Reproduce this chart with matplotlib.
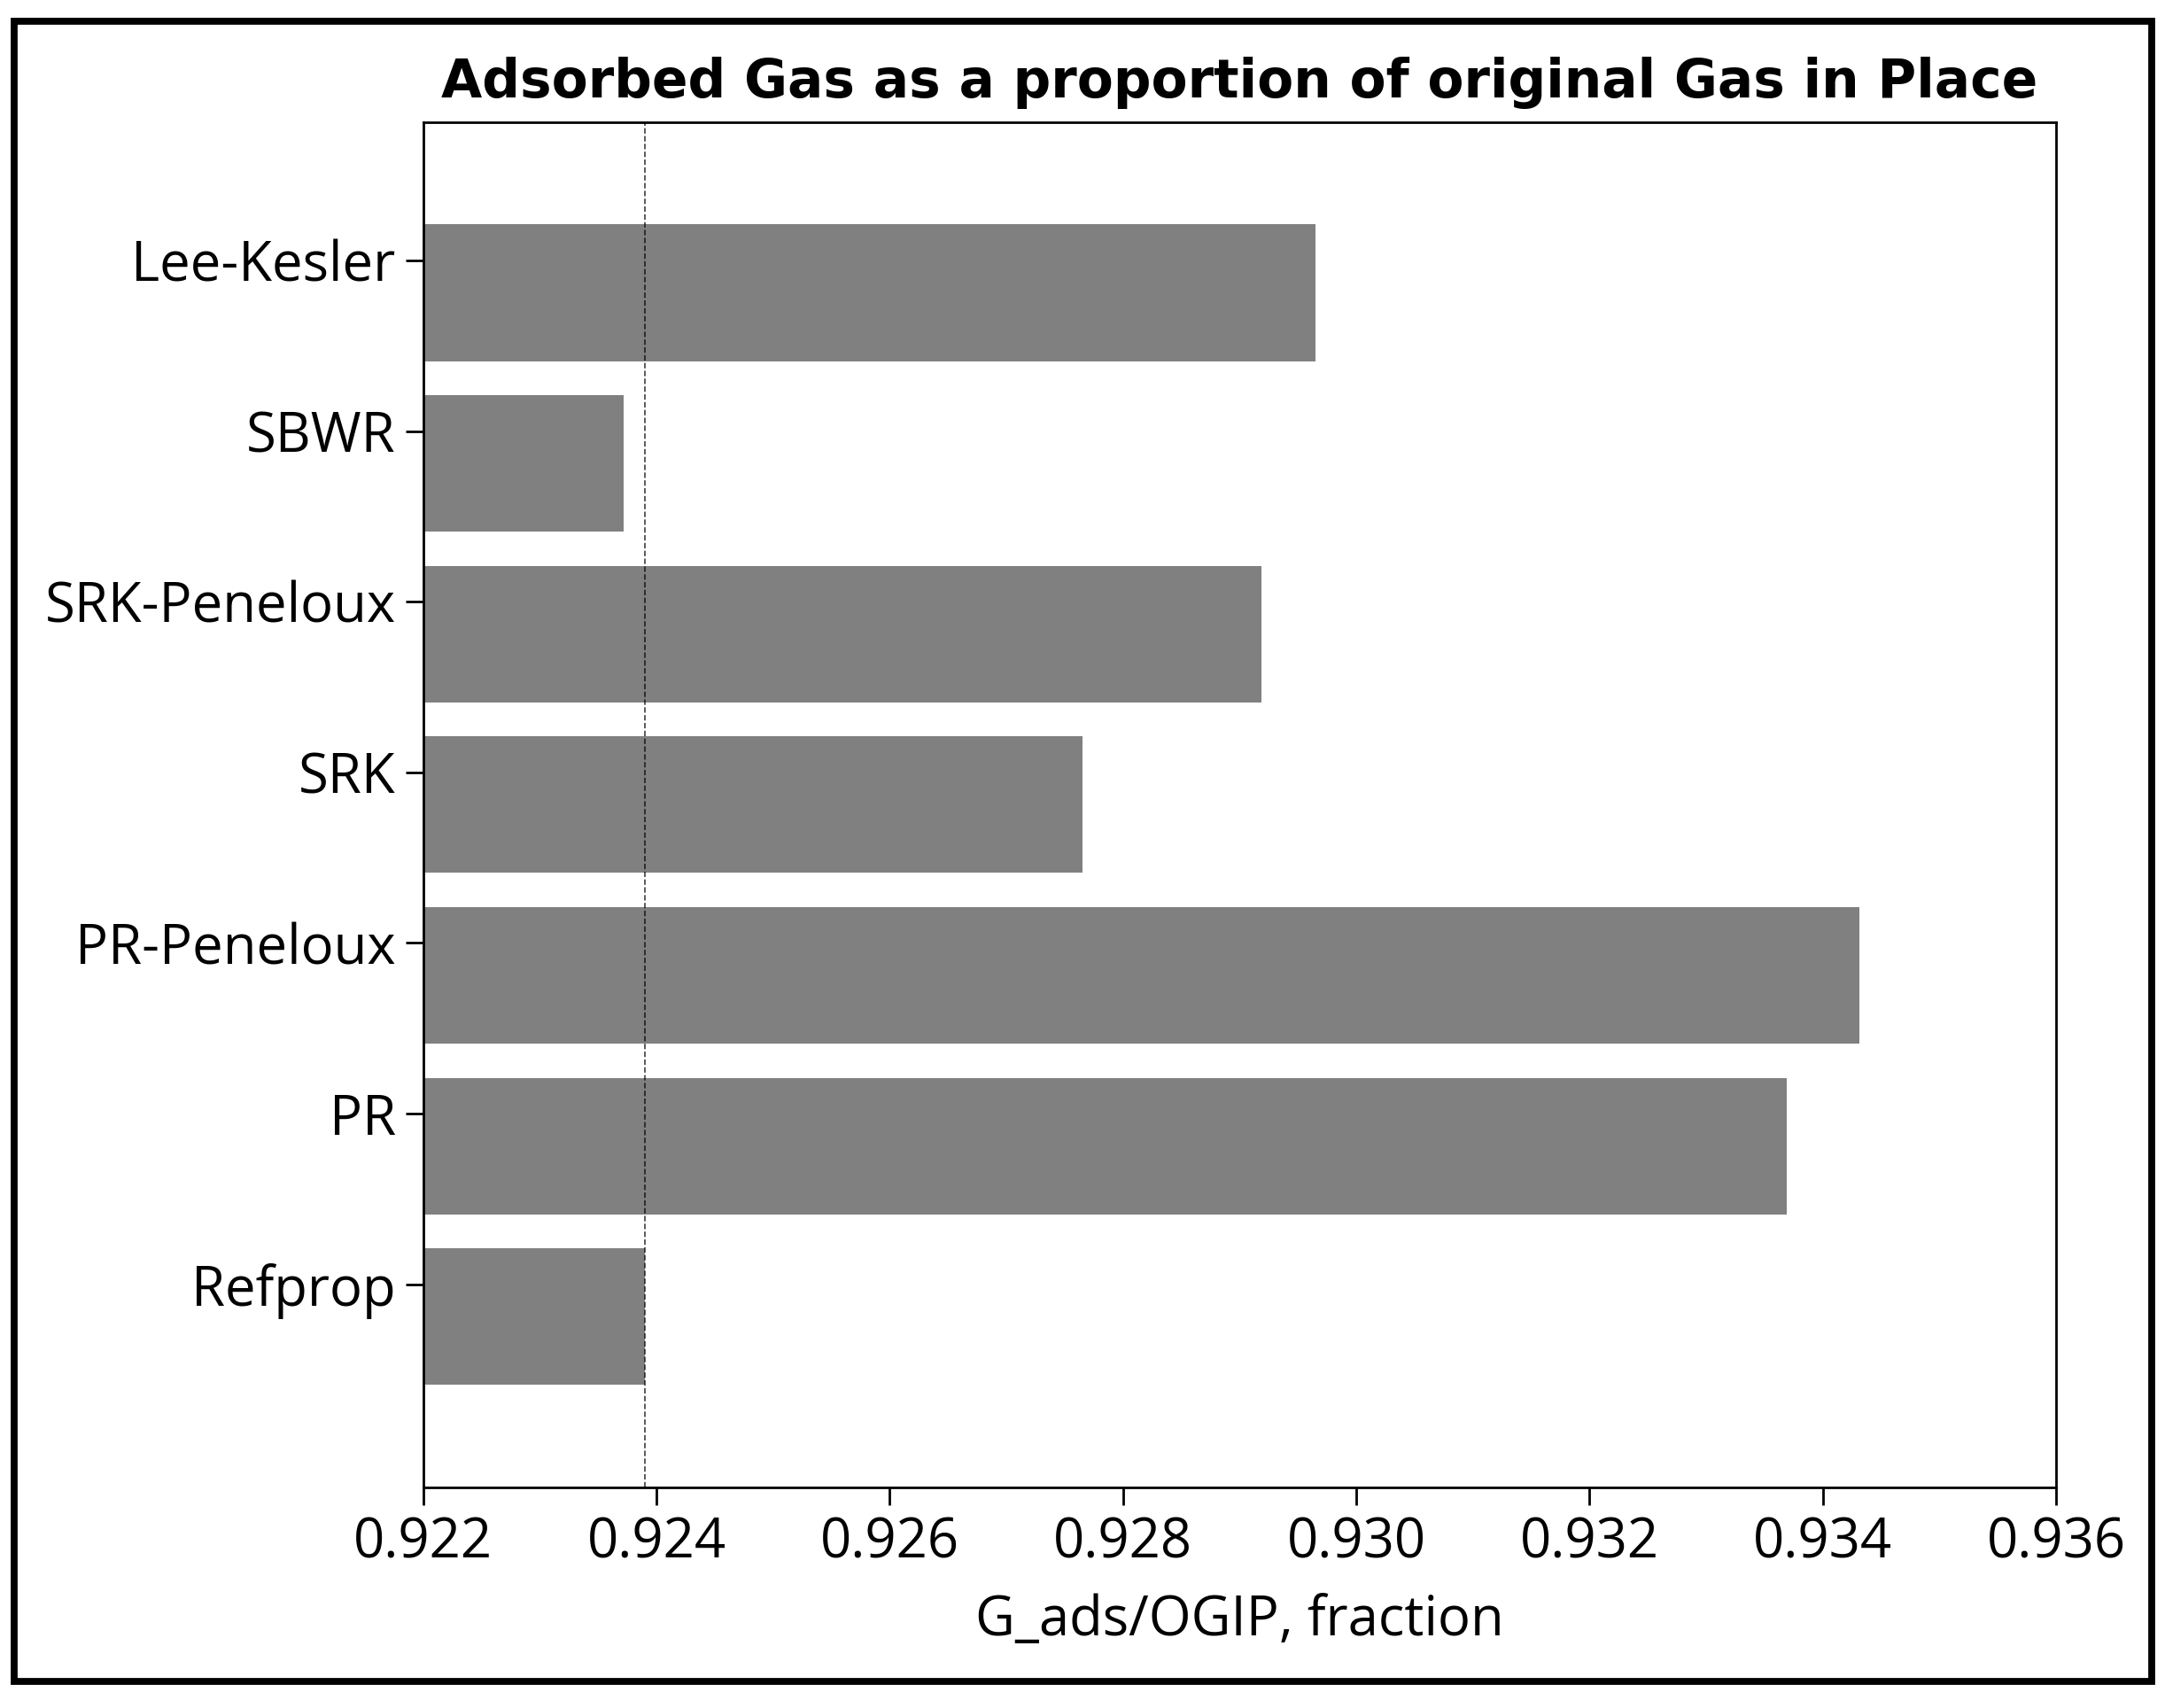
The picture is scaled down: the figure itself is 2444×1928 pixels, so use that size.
import matplotlib
matplotlib.use("Agg")
import matplotlib.pyplot as plt
from matplotlib.patches import Rectangle

# values
models = ["Refprop", "PR", "PR-Peneloux", "SRK", "SRK-Peneloux", "SBWR", "Lee-Kesler"]
g_ads_ogip = [0.92390, 0.93369, 0.93431, 0.92765, 0.92919, 0.92372, 0.92965]
ref_value = 0.92390
xticks = [0.922, 0.924, 0.926, 0.928, 0.930, 0.932, 0.934, 0.936]

plt.rcParams["font.family"] = ["Open Sans", "DejaVu Sans"]

fig = plt.figure(figsize=(12.22, 9.64), dpi=200)
ax = fig.add_axes([0.1955, 0.1292, 0.7542, 0.7993])

ypos = list(range(len(models)))
ax.barh(ypos, g_ads_ogip, height=0.8, color="grey")
ax.axvline(ref_value, color="k", linestyle="--", linewidth=0.6, alpha=0.75)

# category ticks sit a little above the bar centres in the original
ax.set_yticks([p + 0.19 for p in ypos])
ax.set_yticklabels(models)

ax.set_xlim(0.922, 0.936)
ax.set_ylim(-1, 7)
ax.set_xticks(xticks)
ax.set_xticklabels([f"{v:.3f}" for v in xticks])
ax.tick_params(axis="both", labelsize=22.2, length=7.2, width=1.0)
ax.tick_params(axis="x", pad=4.5)
ax.tick_params(axis="y", pad=4)
for s in ax.spines.values():
    s.set_linewidth(1.0)

ax.set_xlabel("G_ads/OGIP, fraction", fontsize=22.2, labelpad=9)
ax.set_title("Adsorbed Gas as a proportion of original Gas in Place",
             fontsize=21.5, fontweight="bold", family="DejaVu Sans", pad=10)

# thick frame round the whole figure
fig.patches.append(Rectangle((0.0066, 0.0156), 0.9873, 0.972, transform=fig.transFigure,
                             fill=False, edgecolor="black", linewidth=2.8))

fig.savefig("out.png", dpi=200)
